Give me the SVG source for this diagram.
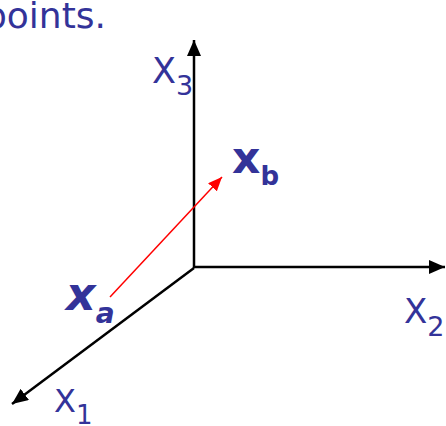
<svg xmlns="http://www.w3.org/2000/svg" width="446" height="426" viewBox="0 0 446 426">
<style>
text{font-family:"DejaVu Sans","Liberation Sans",sans-serif;fill:#333399}
.ax{stroke:#000;stroke-width:2.5;fill:none}
</style>
<defs>
<marker id="ab" markerWidth="16" markerHeight="14" refX="16" refY="7" orient="auto" markerUnits="userSpaceOnUse" viewBox="0 0 16 14"><path d="M0,0L16,7L0,14z" fill="#000"/></marker>
<marker id="ar" markerWidth="14" markerHeight="12" refX="14" refY="6" orient="auto" markerUnits="userSpaceOnUse" viewBox="0 0 14 12"><path d="M0,0L14,6L0,12z" fill="#f00"/></marker>
</defs>
<text x="106" y="28" font-size="36" text-anchor="end">points.</text>
<g id="axes">
<line class="ax" x1="194" y1="268" x2="194" y2="40" marker-end="url(#ab)"/>
<line class="ax" x1="193" y1="267" x2="445" y2="267" marker-end="url(#ab)"/>
<line class="ax" x1="194" y1="268" x2="12" y2="404" marker-end="url(#ab)"/>
</g>
<g id="connectors">
<line x1="110" y1="297" x2="222" y2="177" stroke="#f00" stroke-width="1.5" marker-end="url(#ar)"/>
</g>
<g id="x3"><text x="152" y="83" font-size="35">X<tspan font-size="27" dy="12">3</tspan></text></g>
<g id="x2"><text x="404" y="323" font-size="34">X<tspan font-size="27" dy="13">2</tspan></text></g>
<g id="x1"><text x="54" y="412" font-size="32">X<tspan font-size="26" dy="12">1</tspan></text></g>
<g id="xb"><text x="232" y="173" font-size="44" font-weight="bold">x<tspan font-size="26" dy="12">b</tspan></text></g>
<g id="xa"><text x="66" y="310" font-size="46" font-weight="bold" font-style="italic">x<tspan font-size="28" dy="13">a</tspan></text></g>
</svg>
